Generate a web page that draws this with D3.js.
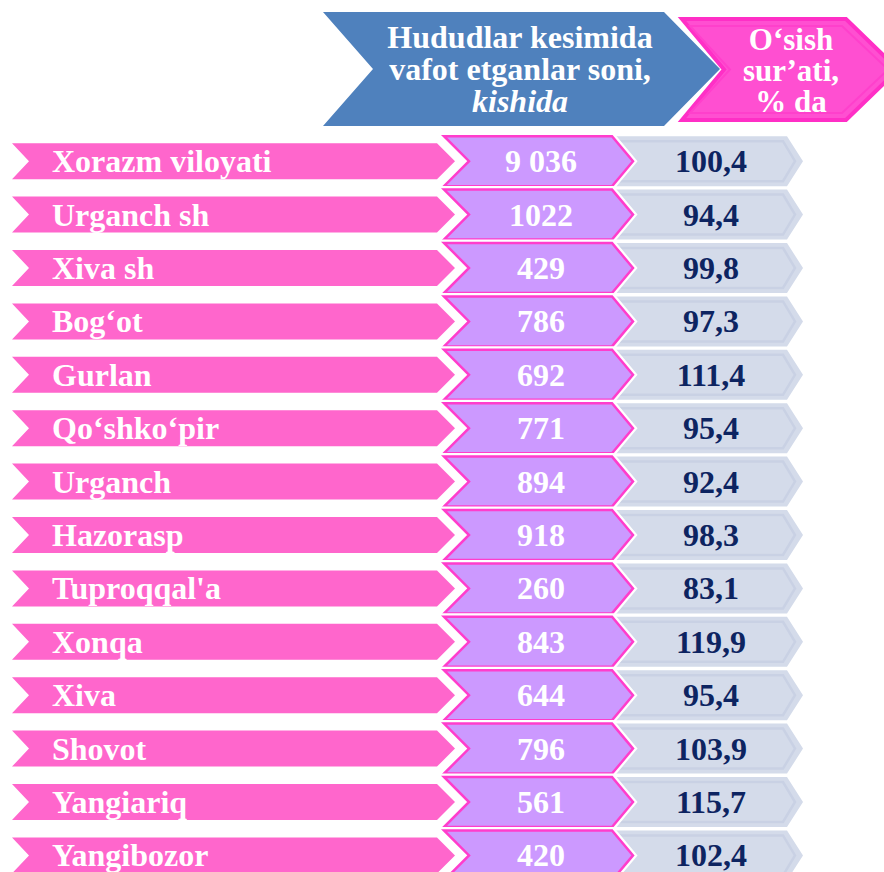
<!DOCTYPE html>
<html>
<head>
<meta charset="utf-8">
<script src="https://cdn.jsdelivr.net/npm/d3@7"></script>
<style>
  body { margin: 0; background: #fff; }
</style>
</head>
<body>
<div id="chart"></div>
<script>
// data
const regions = ["Xorazm viloyati", "Urganch sh", "Xiva sh", "Bog\u2018ot", "Gurlan", "Qo\u2018shko\u2018pir",
  "Urganch", "Hazorasp", "Tuproqqal'a", "Xonqa", "Xiva", "Shovot", "Yangiariq", "Yangibozor"];
const deaths = [9036, 1022, 429, 786, 692, 771, 894, 918, 260, 843, 644, 796, 561, 420];
const growth = [100.4, 94.4, 99.8, 97.3, 111.4, 95.4, 92.4, 98.3, 83.1, 119.9, 95.4, 103.9, 115.7, 102.4];
const headerLeft = ["Hududlar kesimida", "vafot etganlar soni,", "kishida"];
const headerRight = ["O\u2018sish", "sur\u2019ati,", "% da"];

const width = 884, height = 872;
const svg = d3.select("#chart").append("svg")
    .attr("width", width)
    .attr("height", height)
    .attr("font-family", "Liberation Serif, Times New Roman, serif")
    .attr("font-weight", "bold");

// rows
const rows = regions.map((r, i) => ({region: r, deaths: deaths[i], growth: growth[i]}));
const y = d3.scaleBand()
    .domain(regions)
    .range([134.5, 134.5 + 53.4 * regions.length]);
const bw = y.bandwidth();

const fmtDeaths = d => d >= 5000 ? d3.format(",")(d).replace(",", " ") : String(d);
const fmtGrowth = d => d3.format(".1f")(d).replace(".", ",");

// chevron path: x0 left, notch depth n, x1 body end, tip length t, y top, h height
function chevron(x0, n, x1, t, yt, h) {
    const ym = yt + h / 2;
    return `M${x0},${yt} L${x1},${yt} L${x1 + t},${ym} L${x1},${yt + h} L${x0},${yt + h} L${x0 + n},${ym} Z`;
}

// header shapes
svg.append("path")
    .attr("d", chevron(323, 50, 664, 56, 12, 114))
    .attr("fill", "#4f81bd");
svg.append("path")
    .attr("d", chevron(682, 42, 846, 52, 19, 101))
    .attr("fill", "#ff4fd1")
    .attr("stroke", "#ff2fc6")
    .attr("stroke-width", 4);
svg.append("path")
    .attr("d", chevron(690, 40, 842, 46, 26, 87))
    .attr("fill", "none")
    .attr("stroke", "#ff40cc")
    .attr("stroke-width", 2);

svg.append("text")
    .attr("fill", "#fff")
    .attr("text-anchor", "middle")
    .attr("font-size", 32)
    .selectAll("tspan")
    .data(headerLeft)
    .join("tspan")
    .attr("x", 520)
    .attr("y", (d, i) => 48 + i * 32)
    .attr("font-style", (d, i) => i === 2 ? "italic" : null)
    .text(d => d);

svg.append("text")
    .attr("fill", "#fff")
    .attr("text-anchor", "middle")
    .attr("font-size", 31)
    .selectAll("tspan")
    .data(headerRight)
    .join("tspan")
    .attr("x", 791)
    .attr("y", (d, i) => 50 + i * 31)
    .text(d => d);

const row = svg.append("g").selectAll("g")
    .data(rows)
    .join("g")
    .attr("transform", d => `translate(0,${y(d.region) + bw / 2})`);

// pink region bar
row.append("path")
    .attr("d", chevron(12, 17, 437, 18, -18, 36))
    .attr("fill", "#ff66cc");

row.append("text")
    .attr("x", 52)
    .attr("y", 11)
    .attr("font-size", 32)
    .attr("fill", "#fff")
    .text(d => d.region);

// grey growth chevron with inner bevel line
row.append("path")
    .attr("d", chevron(590, 20, 787, 16, -25, 50))
    .attr("fill", "#d4dbea");
row.append("path")
    .attr("d", chevron(600, 18, 783, 12, -20, 40))
    .attr("fill", "none")
    .attr("stroke", "#c9d1e4")
    .attr("stroke-width", 2.5);

// purple deaths chevron (white outline, pink border)
row.append("path")
    .attr("d", chevron(444, 25, 612, 21, -25, 50))
    .attr("fill", "none")
    .attr("stroke", "#fff")
    .attr("stroke-width", 7);
row.append("path")
    .attr("d", chevron(444, 25, 612, 21, -25, 50))
    .attr("fill", "#cc99ff")
    .attr("stroke", "#ff3dcc")
    .attr("stroke-width", 2.5);

row.append("text")
    .attr("x", 541)
    .attr("y", 11)
    .attr("text-anchor", "middle")
    .attr("font-size", 32)
    .attr("fill", "#fff")
    .text(d => fmtDeaths(d.deaths));

row.append("text")
    .attr("x", 711)
    .attr("y", 11)
    .attr("text-anchor", "middle")
    .attr("font-size", 32)
    .attr("fill", "#0d2461")
    .text(d => fmtGrowth(d.growth));
</script>
</body>
</html>
